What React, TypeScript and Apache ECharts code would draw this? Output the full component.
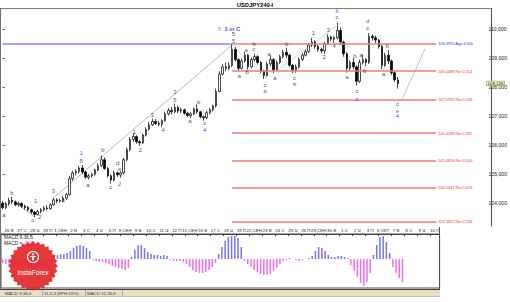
import React, { useEffect, useRef } from 'react';
import * as echarts from 'echarts';

// [open, close, low, high] — 6h candles
const ohlc: number[][] = [
  [104.00,103.85,103.78,104.08],[103.85,103.98,103.80,104.05],[103.98,104.10,103.92,104.20],[104.10,104.05,103.98,104.22],
  [104.05,103.95,103.90,104.10],[103.95,104.00,103.88,104.06],[104.00,103.90,103.84,104.03],[103.90,103.86,103.78,103.96],
  [103.86,103.78,103.72,103.92],[103.78,103.70,103.63,103.82],[103.70,103.62,103.52,103.74],[103.62,103.72,103.58,103.78],
  [103.72,103.78,103.66,103.84],[103.78,103.84,103.72,103.90],[103.84,103.82,103.76,103.94],[103.82,103.95,103.78,104.00],
  [103.95,104.12,103.92,104.20],[104.12,104.08,104.00,104.18],[104.08,104.10,104.02,104.16],[104.10,104.18,104.04,104.25],
  [104.18,104.30,104.12,104.36],[104.30,104.85,104.26,104.95],[104.85,105.05,104.78,105.12],[105.05,105.10,104.96,105.18],
  [105.10,105.22,105.02,105.30],[105.22,105.08,105.00,105.32],[105.08,104.90,104.85,105.12],[104.90,104.95,104.82,105.02],
  [104.95,105.00,104.88,105.06],[105.00,105.15,104.95,105.20],[105.15,105.30,105.10,105.38],[105.30,105.50,105.25,105.65],
  [105.50,105.20,105.15,105.58],[105.20,104.95,104.88,105.25],[104.95,104.80,104.68,105.00],[104.80,105.05,104.76,105.12],
  [105.05,104.98,104.92,105.10],[104.98,105.05,104.88,105.10],[105.05,105.50,105.00,105.56],[105.50,105.85,105.45,105.92],
  [105.85,106.20,105.80,106.28],[106.20,106.30,106.12,106.42],[106.30,106.12,106.05,106.35],[106.12,106.08,105.98,106.18],
  [106.08,106.35,106.04,106.40],[106.35,106.55,106.30,106.62],[106.55,106.70,106.50,106.80],[106.70,106.82,106.66,106.92],
  [106.82,106.75,106.70,106.90],[106.75,106.72,106.66,106.84],[106.72,106.85,106.62,106.90],[106.85,107.08,106.80,107.15],
  [107.08,107.20,107.02,107.28],[107.20,107.15,107.06,107.32],[107.15,107.30,107.10,107.43],[107.30,107.18,107.10,107.36],
  [107.18,107.22,107.10,107.30],[107.22,107.10,107.05,107.26],[107.10,107.02,106.98,107.15],[107.02,107.08,106.94,107.14],
  [107.08,107.25,107.04,107.30],[107.25,107.15,107.08,107.40],[107.15,106.98,106.92,107.18],[106.98,106.95,106.84,107.02],
  [106.95,107.12,106.90,107.18],[107.12,107.22,107.06,107.28],[107.22,107.35,107.16,107.40],[107.35,107.85,107.30,107.95],
  [107.85,108.45,107.82,108.55],[108.45,108.70,108.40,108.80],[108.70,108.65,108.55,108.85],[108.65,108.75,108.58,108.86],
  [108.75,109.30,108.70,109.48],[109.30,108.95,108.88,109.38],[108.95,108.65,108.55,109.00],[108.65,108.90,108.60,108.98],
  [108.90,109.10,108.85,109.22],[109.10,108.70,108.60,109.14],[108.70,108.95,108.65,109.02],[108.95,109.05,108.88,109.15],
  [109.05,108.85,108.78,109.10],[108.85,108.55,108.48,108.90],[108.55,108.40,108.28,108.60],[108.40,108.80,108.36,108.88],
  [108.80,108.95,108.72,109.10],[108.95,108.60,108.48,109.00],[108.60,108.85,108.56,108.92],[108.85,109.05,108.80,109.12],
  [109.05,109.20,108.98,109.28],[109.20,109.10,109.00,109.36],[109.10,108.75,108.70,109.15],[108.75,108.60,108.48,108.80],
  [108.60,108.70,108.50,108.78],[108.70,108.95,108.64,109.02],[108.95,109.10,108.90,109.18],[109.10,109.22,109.05,109.30],
  [109.22,109.45,109.18,109.52],[109.45,109.55,109.38,109.70],[109.55,109.40,109.32,109.62],[109.40,109.30,109.22,109.46],
  [109.30,109.25,109.16,109.36],[109.25,109.50,109.14,109.56],[109.50,109.72,109.45,109.82],[109.72,109.65,109.58,109.78],
  [109.65,109.70,109.52,109.76],[109.70,109.95,109.65,110.22],[109.95,109.55,109.45,110.05],[109.55,109.15,109.05,109.60],
  [109.15,108.65,108.50,109.20],[108.65,108.85,108.58,108.92],[108.85,108.70,108.62,109.00],[108.70,108.20,108.05,108.75],
  [108.20,108.85,108.15,108.95],[108.85,108.95,108.78,109.12],[108.95,108.85,108.72,109.00],[108.85,109.75,108.80,109.86],
  [109.75,109.70,109.60,109.82],[109.70,109.62,109.52,109.78],[109.62,109.40,109.32,109.66],[109.40,108.75,108.62,109.45],
  [108.75,109.10,108.70,109.18],[109.10,108.90,108.80,109.28],[108.90,108.50,108.42,108.95],[108.50,108.25,108.18,108.55],
  [108.25,108.126,107.95,108.35],
];

const macdHist: number[] = [
  -4,-5,-6,-6,-5,-5,-6,-7,-8,-9,-9,-8,-7,-6,-4,-2,
  3,4,5,5,6,8,11,13,14,13,11,8,
  -1,-2,-3,-3,-4,-5,-7,-8,-9,-10,-11,-9,
  2,9,14,14,11,7,
  5,4,4,3,4,3,
  -1,-2,-2,-2,-3,
  -5,-8,-11,-13,-14,-14,-13,-11,-8,-4,
  5,12,18,22,23,23,21,12,
  -2,-5,-8,-11,-13,-15,-16,-16,-15,-12,-9,-5,-2,
  -1,1,0,-1,-2,-1,0,1,
  3,8,12,11,8,4,
  2,2,3,3,2,1,
  -6,-12,-18,-24,-27,-23,-14,
  4,14,22,23,17,6,
  -8,-14,-19,-23,
];

const dateLabels = ['26 В','27 С','28 Ч','29 П','1 СЕН','2 В','3 С','4 Ч','5 П','8 СЕН','9 В','10 С','11 Ч','12 П','15 СЕН','16 В','17 С','18 Ч','19 П','22 СЕН','23 В','24 С','25 Ч','26 П','29 СЕН','30 В','1 С','2 Ч','3 П','6 ОКТ','7 В','8 С','9 Ч','10 П'];

const fibPrices = [109.4970, 108.5489, 107.5793, 106.4189, 105.4818, 104.5431, 103.3827];
const fibTags = ['App 4.000','Ret 0.114','Ret 0.236','Ret 0.382','Ret 0.500','Ret 0.618','Ret 0.764'];

const priceTicks = { min: 103, max: 111, step: 1 };

// [candle position, price, text, colour key]
const waveLabels: [number, number, string, string][] = [
  [0.43,103.60,'a','k'],[2.91,104.35,'b','k'],[9.43,103.42,'c','k'],[11.6,103.53,'2','k'],[10.36,104.08,'1','k'],
  [15.94,104.42,'3','k'],[19.04,104.08,'4','k'],
  [24.62,105.72,'1','B'],[24.62,105.45,'5','k'],[26.79,104.62,'a','k'],[31.44,105.82,'b','k'],[33.92,104.55,'c','k'],
  [36.09,105.38,'d','k'],[36.71,105.17,'e','k'],[36.71,104.66,'2','B'],
  [41.36,106.47,'1','k'],[43.22,105.82,'2','k'],[46.95,107.05,'3','k'],[50.36,106.54,'4','k'],
  [54.08,107.84,'3','B'],[54.08,107.57,'5','k'],[58.73,106.85,'a','k'],[61.52,107.50,'b','k'],[63.38,106.75,'c','k'],[63.38,106.51,'4','B'],
  [68.03,110.00,'5','L'],[72.06,110.00,'3 or C','N'],[72.37,109.83,'5','k'],[72.37,109.59,'5','B'],
  [74.23,108.39,'a','k'],[76.40,109.28,'a','k'],[76.71,108.53,'b','k'],[78.88,109.49,'b','k'],[78.88,109.32,'c','k'],
  [82.29,108.08,'c','k'],[82.29,107.88,'a','B'],[83.53,109.14,'a','k'],[85.40,108.32,'a','k'],[89.12,109.49,'b','k'],
  [91.60,108.32,'c','k'],[91.60,108.12,'b','k'],
  [97.49,109.86,'1','k'],[100.9,109.04,'2','k'],[102.14,109.97,'3','k'],[104.0,109.42,'4','k'],
  [104.93,110.62,'b','B'],[104.93,110.41,'c','k'],[114.54,110.27,'d','B'],[114.54,110.03,'c','k'],
  [108.03,108.36,'a','k'],[110.51,109.08,'b','k'],[112.37,109.11,'a','k'],[113.61,108.56,'b','k'],
  [111.16,107.88,'c','k'],[111.16,107.60,'c','B'],
  [120.74,109.42,'b','k'],[119.50,108.46,'a','k'],[123.84,107.43,'c','k'],[123.84,107.19,'e','B'],[123.84,106.99,'4','B'],
];

const trendLines: { pts: number[][]; color: string }[] = [
  { pts: [[16.2,104.21],[72.4,109.49]], color: '#a8a8a8' },
  { pts: [[3.2,104.11],[10.0,103.53]], color: '#a8a8a8' },
  { pts: [[72.7,109.35],[82.0,108.39]], color: '#a6d2f0' },
  { pts: [[86.0,108.56],[104.6,110.10]], color: '#a6d2f0' },
  { pts: [[125.4,107.60],[132.5,109.32]], color: '#b0b0b0' },
];

const N_MAIN = 152;
const N_SUB = 136;
const FIB_START = 72;
const FIB_END = 136;
const FONT = '"Liberation Sans", Arial, sans-serif';

const colorMap: Record<string, string> = { k: '#222', B: '#2a2ad8', L: '#3a9ff0', N: '#1c1c9c' };

function buildOption() {
  const mainCats = Array.from({ length: N_MAIN }, (_, i) => String(i));
  const subCats = Array.from({ length: N_SUB }, (_, i) => String(i));
  const lastClose = ohlc[ohlc.length - 1][1];

  const fibLines: any[] = fibPrices.map((p, i) => [
    {
      coord: [FIB_START, p],
      lineStyle: { color: '#f47878', width: 1.5, type: 'solid' },
      label: {
        show: true, position: 'end', distance: 2,
        formatter: `${p.toFixed(4)} ${fibTags[i]}`,
        color: i === 0 ? '#3535e0' : '#f03030', fontSize: 3.9, fontFamily: FONT,
      },
    },
    { coord: [FIB_END, p] },
  ]);
  fibLines.push([
    { coord: [0, fibPrices[0]], lineStyle: { color: '#8484f0', width: 1.5, type: 'solid' }, label: { show: false } },
    { coord: [FIB_START, fibPrices[0]] },
  ]);
  fibLines.push({
    yAxis: lastClose,
    lineStyle: { color: 'transparent', width: 0 },
    label: {
      show: true, position: 'end', distance: 1,
      formatter: lastClose.toFixed(3).replace('.', ','),
      color: '#000', fontSize: 4.4, fontFamily: FONT,
      backgroundColor: '#ffffb0', borderColor: '#777', borderWidth: 0.5, padding: [0, 1, 0, 1],
    },
  });

  // starburst logo
  const cx = 33, cy = 266;
  const star: number[][] = [];
  for (let i = 0; i < 56; i++) {
    const a = (i * Math.PI) / 28;
    const r = i % 2 === 0 ? 25 : 22.5;
    star.push([cx + r * Math.cos(a), cy + r * Math.sin(a)]);
  }

  const txt = (x: number, y: number, text: string, font: string, fill: string, align = 'left', z = 50): any => ({
    type: 'text', x, y, z, silent: true,
    style: { text, font, fill, align, textAlign: align, verticalAlign: 'middle', textVerticalAlign: 'middle' },
  });
  const ln = (x1: number, y1: number, x2: number, y2: number, stroke: string, w = 1, z = 5): any => ({
    type: 'line', z, silent: true, shape: { x1, y1, x2, y2 }, style: { stroke, lineWidth: w },
  });

  const graphic: any[] = [
    txt(255, 4.5, 'USDJPY240-I', `bold 5.8px ${FONT}`, '#000', 'center'),
    ln(0, 8.5, 491.5, 8.5, '#808080'),
    ln(0.5, 8, 0.5, 289, '#707070'),
    ln(491.5, 8, 491.5, 226.5, '#505050'),
    ln(439.5, 227, 439.5, 289, '#505050'),
    ln(0, 289.5, 440, 289.5, '#404040'),
    { type: 'rect', z: 4, silent: true, shape: { x: 0, y: 290, width: 440, height: 6 }, style: { fill: '#e8dfc4' } },
    ln(0, 296.5, 440, 296.5, '#bdb39a', 0.8),
    txt(5, 293, 'MACD 9,36,6', `4.4px ${FONT}`, '#333'),
    txt(44, 293, '11,5,3 (8PH,20%)', `4.4px ${FONT}`, '#333'),
    txt(87, 293, 'MACD 12,36,6', `4.4px ${FONT}`, '#333'),
    ln(42.5, 290, 42.5, 296, '#8a8270', 0.6),
    ln(85.5, 290, 85.5, 296, '#8a8270', 0.6),
    ln(122.5, 290, 122.5, 296, '#8a8270', 0.6),
    txt(4, 237.5, 'MACD 9,36,6', `4.8px ${FONT}`, '#222'),
    {
      type: 'text', x: 4, y: 243.5, z: 50, silent: true,
      style: {
        text: 'MACD = {v|-0,39}', font: `4.8px ${FONT}`, fill: '#222', verticalAlign: 'middle', textVerticalAlign: 'middle',
        rich: { v: { fill: '#e040e0', color: '#e040e0', font: `4.8px ${FONT}` } },
      },
    },
    { type: 'polygon', z: 100, silent: true, shape: { points: star }, style: { fill: 'rgba(226,34,40,0.9)' } },
    { type: 'circle', z: 101, silent: true, shape: { cx, cy: 257, r: 5.5 }, style: { fill: 'none', stroke: '#fff', lineWidth: 1.1 } },
    { type: 'circle', z: 101, silent: true, shape: { cx, cy: 254.3, r: 1.1 }, style: { fill: '#fff' } },
    { type: 'rect', z: 101, silent: true, shape: { x: cx - 0.8, y: 256, width: 1.6, height: 4.5 }, style: { fill: '#fff' } },
    { type: 'rect', z: 101, silent: true, shape: { x: cx - 2.8, y: 256, width: 5.6, height: 1.1 }, style: { fill: '#fff' } },
    txt(cx, 272.5, 'InstaForex', `6.6px ${FONT}`, '#fff', 'center', 102),
  ];

  return {
    animation: false,
    backgroundColor: '#ffffff',
    textStyle: { fontFamily: FONT },
    grid: [
      { left: 1, top: -1.2, width: 490.2, height: 233.6 },
      { left: 1, top: 227, width: 438.6, height: 7 },
      { left: 1, top: 234, width: 438.6, height: 54, show: true, borderColor: '#505050', borderWidth: 1, backgroundColor: 'transparent' },
    ],
    xAxis: [
      { type: 'category', gridIndex: 0, data: mainCats, show: false, boundaryGap: true },
      { type: 'value', gridIndex: 0, min: -0.5, max: N_MAIN - 0.5, show: false },
      {
        type: 'category', gridIndex: 1, data: subCats, position: 'top', boundaryGap: true,
        axisLine: { show: true, lineStyle: { color: '#404040', width: 1 } },
        axisTick: { show: true, inside: true, length: 2, interval: (i: number) => i % 4 === 1, lineStyle: { color: '#404040' } },
        axisLabel: {
          show: true, inside: true, margin: 1.2, fontSize: 4.4, color: '#222', fontFamily: FONT,
          interval: (i: number) => i % 4 === 2,
          formatter: (_v: string, i: number) => dateLabels[(i - 2) / 4] ?? '',
        },
        splitLine: { show: false },
      },
      { type: 'category', gridIndex: 2, data: subCats, show: false, boundaryGap: true },
    ],
    yAxis: [
      {
        type: 'value', gridIndex: 0, position: 'right', min: priceTicks.min, max: priceTicks.max, interval: priceTicks.step,
        axisLine: { show: false },
        axisTick: { show: true, length: 2, lineStyle: { color: '#404040' } },
        axisLabel: {
          show: true, margin: 3, fontSize: 5.1, color: '#222', fontFamily: FONT, padding: [3, 0, 0, 0],
          showMinLabel: false, showMaxLabel: false,
          formatter: (v: number) => v.toFixed(3).replace('.', ','),
        },
        splitLine: { show: false },
      },
      { type: 'value', gridIndex: 1, show: false },
      { type: 'value', gridIndex: 2, min: -29, max: 25, show: false },
    ],
    graphic,
    series: [
      {
        type: 'candlestick', xAxisIndex: 0, yAxisIndex: 0, data: ohlc, barWidth: 2,
        itemStyle: { color: '#ffffff', color0: '#000000', borderColor: '#000000', borderColor0: '#000000', borderWidth: 0.7 },
        markLine: { symbol: ['none', 'none'], silent: true, animation: false, data: fibLines },
        z: 3,
      },
      ...trendLines.map((t) => ({
        type: 'line', xAxisIndex: 1, yAxisIndex: 0, data: t.pts, symbol: 'none', silent: true,
        lineStyle: { color: t.color, width: 0.8 }, z: 2,
      })),
      {
        type: 'scatter', xAxisIndex: 1, yAxisIndex: 0, symbolSize: 1, silent: true, z: 6,
        itemStyle: { color: 'rgba(0,0,0,0)' },
        data: waveLabels.map(([c, p, t, k]) => ({
          value: [c, p],
          label: {
            show: true, position: 'inside', formatter: t, color: colorMap[k],
            fontSize: k === 'N' ? 5.6 : 6, fontWeight: k === 'N' || k === 'L' ? 'bold' : 'normal', fontFamily: FONT,
          },
        })),
      },
      { type: 'line', xAxisIndex: 2, yAxisIndex: 1, data: [], silent: true },
      {
        type: 'bar', xAxisIndex: 3, yAxisIndex: 2, barWidth: 1.5, silent: true,
        data: macdHist.map((v) => ({ value: v, itemStyle: { color: v >= 0 ? '#7676ee' : '#ef6cef' } })),
      },
    ],
  };
}

export default function App() {
  const ref = useRef<HTMLDivElement>(null);
  useEffect(() => {
    document.body.style.margin = '0';
    const chart = echarts.init(ref.current!, null, { renderer: 'svg' });
    chart.setOption(buildOption() as any);
    return () => chart.dispose();
  }, []);
  return <div ref={ref} style={{ width: 510, height: 302, position: 'absolute', left: 0, top: 0 }} />;
}
